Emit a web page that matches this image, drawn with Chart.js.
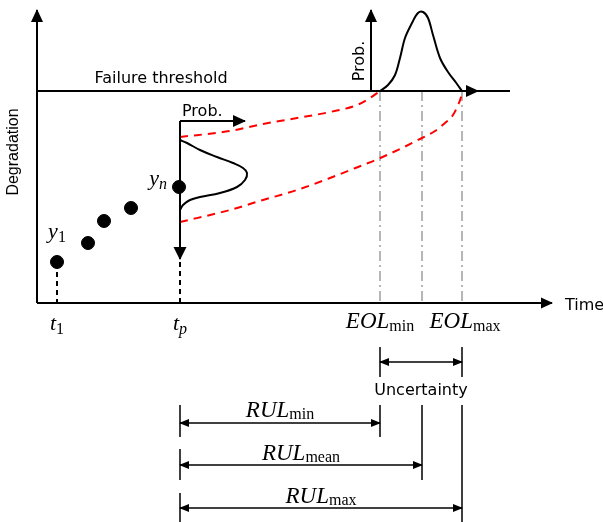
<!DOCTYPE html>
<html>
<head>
<meta charset="utf-8">
<script src="https://cdn.jsdelivr.net/npm/chart.js@4.4.0/dist/chart.umd.min.js"></script>
<style>
  html, body { margin: 0; padding: 0; background: #fff; }
  canvas { display: block; }
</style>
</head>
<body>
<canvas id="rulChart" width="603" height="522"></canvas>
<script>
// ---- data (time / degradation units) ----
var obsTime = [2.0, 5.1, 6.7, 9.4, 14.2];
var obsValue = [4.1, 6.0, 8.2, 9.5, 11.6];
var threshold = 21.2;
var t1 = 2.0;
var tp = 14.3;
var eolTimes = [34.3, 38.5, 42.5]; // min, mean, max

// predicted degradation bounds (red dashed)
var upperTime = [14.3, 19.3, 22.6, 26.0, 29.3, 32.0, 33.3, 34.3];
var upperValue = [16.6, 17.2, 17.9, 18.5, 19.1, 19.8, 20.5, 21.2];
var lowerTime = [14.3, 19.3, 22.6, 26.0, 29.3, 32.6, 34.1, 36.5, 38.5, 39.8, 40.8, 41.6, 42.1, 42.4, 42.5];
var lowerValue = [8.1, 9.3, 10.3, 11.3, 12.5, 13.8, 14.4, 15.5, 16.5, 17.2, 18.0, 18.8, 19.8, 20.6, 21.2];

// state pdf at tp (drawn sideways)
var statePdfTime = [14.3, 15.0, 16.3, 18.0, 19.6, 20.6, 21.0, 20.8, 20.0, 18.3, 16.3, 15.3, 14.6, 14.3];
var statePdfValue = [16.3, 16.0, 15.3, 14.6, 14.0, 13.5, 13.0, 12.3, 11.6, 11.0, 10.6, 10.3, 9.8, 9.3];

// EOL pdf above the threshold
var eolPdfTime = [34.3, 35.1, 35.8, 36.3, 36.8, 37.5, 38.1, 38.6, 39.1, 39.6, 40.3, 41.1, 42.0, 42.5];
var eolPdfValue = [21.2, 21.8, 22.8, 24.5, 26.5, 28.0, 29.0, 29.1, 28.5, 26.8, 24.5, 23.1, 21.9, 21.2];

// ---- helpers ----
function pts(xs, ys) {
    return xs.map(function(x, i) { return {x: x, y: ys[i]}; });
}
function seg(xs, ys, opts) {
    var ds = {
        data: pts(xs, ys),
        showLine: true,
        pointRadius: 0,
        borderColor: '#000',
        backgroundColor: '#000',
        borderWidth: 2,
        tension: 0,
        clip: false
    };
    for (var k in opts) ds[k] = opts[k];
    return ds;
}

var datasets = [];
// main axes
datasets.push(seg([0, 0], [0, 29.3], {arrow: 'end', arrowLen: 12, arrowHalf: 6}));
datasets.push(seg([0, 51.5], [0, 0], {arrow: 'end', arrowLen: 11, arrowHalf: 5.5}));
// failure threshold
datasets.push(seg([0, 47.3], [threshold, threshold], {}));
datasets.push(seg([eolTimes[2], 44.1], [threshold, threshold], {arrow: 'end', arrowLen: 12, arrowHalf: 6}));
// EOL prob axis + pdf
datasets.push(seg([33.4, 33.4], [threshold, 29.3], {arrow: 'end', arrowLen: 12, arrowHalf: 6}));
datasets.push(seg(eolPdfTime, eolPdfValue, {tension: 0.35}));
// prob axis at tp + state pdf
datasets.push(seg([tp, 20.8], [18.2, 18.2], {arrow: 'end', arrowLen: 12, arrowHalf: 6}));
datasets.push(seg([tp, tp], [18.2, 4.4], {arrow: 'end', arrowLen: 12, arrowHalf: 6.5}));
datasets.push(seg(statePdfTime, statePdfValue, {tension: 0.4}));
// drop lines to time axis
datasets.push(seg([t1, t1], [3.1, 0], {borderDash: [5, 4]}));
datasets.push(seg([tp, tp], [4.1, 0], {borderDash: [5, 4]}));
// red prediction bounds
datasets.push(seg(upperTime, upperValue, {borderColor: '#ff0000', borderDash: [8, 6], cubicInterpolationMode: 'monotone'}));
datasets.push(seg(lowerTime, lowerValue, {borderColor: '#ff0000', borderDash: [8, 6], cubicInterpolationMode: 'monotone'}));
// EOL guide lines
eolTimes.forEach(function(t) {
    datasets.push(seg([t, t], [threshold, 0], {borderColor: '#a0a0a0', borderWidth: 1.5, borderDash: [10, 4, 2, 4]}));
});
// bracket lines under the time axis
var brackets = [
    [eolTimes[0], -4.4, -7.4], [eolTimes[0], -10.2, -13.4],
    [eolTimes[2], -4.4, -7.4], [eolTimes[2], -10.2, -21.9],
    [eolTimes[1], -10.2, -17.7],
    [tp, -10.2, -13.4], [tp, -14.6, -17.7], [tp, -19.0, -21.9]
];
brackets.forEach(function(b) {
    datasets.push(seg([b[0], b[0]], [b[1], b[2]], {borderWidth: 1.5}));
});
// dimension arrows
var dims = [
    [eolTimes[0], eolTimes[2], -5.9],
    [tp, eolTimes[0], -12.0],
    [tp, eolTimes[1], -16.2],
    [tp, eolTimes[2], -20.5]
];
dims.forEach(function(d) {
    datasets.push(seg([d[0], d[1]], [d[2], d[2]], {borderWidth: 1.5, arrow: 'both', arrowLen: 9, arrowHalf: 4}));
});
// observations
datasets.push({
    data: pts(obsTime, obsValue),
    showLine: false,
    pointRadius: 6.5,
    pointBackgroundColor: '#000',
    pointBorderColor: '#000',
    clip: false
});

// ---- labels ----
var SANS = '16px "DejaVu Sans"';
var MATH = 'italic 23px "Liberation Serif"';
var MATHS = 'italic 22px "Liberation Serif"';
var SUB = '16px "Liberation Serif"';
var SUBI = 'italic 16px "Liberation Serif"';
var labels = [
    {parts: [{text: 'Failure threshold', font: SANS}], x: 12.4, y: 22.0, align: 'center'},
    {parts: [{text: 'Time', font: SANS}], x: 52.8, y: -0.7, align: 'left'},
    {parts: [{text: 'Degradation', font: '16px "Liberation Sans"'}], x: -1.87, y: 15.1, align: 'center', rot: -90},
    {parts: [{text: 'Prob.', font: SANS}], x: 14.5, y: 18.7, align: 'left'},
    {parts: [{text: 'Prob.', font: SANS}], x: 32.7, y: 24.2, align: 'center', rot: -90},
    {parts: [{text: 'Uncertainty', font: SANS}], x: 38.4, y: -9.2, align: 'center'},
    {parts: [{text: 'y', font: MATHS}, {text: '1', font: SUB, dy: 4}], x: t1, y: 6.5, align: 'center'},
    {parts: [{text: 'y', font: MATHS}, {text: 'n', font: SUBI, dy: 4}], x: 13.0, y: 11.8, align: 'right'},
    {parts: [{text: 't', font: MATHS}, {text: '1', font: SUB, dy: 4}], x: t1, y: -2.7, align: 'center'},
    {parts: [{text: 't', font: MATHS}, {text: 'p', font: SUBI, dy: 4}], x: tp, y: -2.7, align: 'center'},
    {parts: [{text: 'EOL', font: MATH}, {text: 'min', font: SUB, dy: 3}], x: eolTimes[0], y: -2.5, align: 'center'},
    {parts: [{text: 'EOL', font: MATH}, {text: 'max', font: SUB, dy: 3}], x: 42.8, y: -2.5, align: 'center'},
    {parts: [{text: 'RUL', font: MATH}, {text: 'min', font: SUB, dy: 2}], x: 24.3, y: -11.4, align: 'center'},
    {parts: [{text: 'RUL', font: MATH}, {text: 'mean', font: SUB, dy: 2}], x: 26.4, y: -15.7, align: 'center'},
    {parts: [{text: 'RUL', font: MATH}, {text: 'max', font: SUB, dy: 2}], x: 28.4, y: -20.0, align: 'center'}
];

var arrowHeads = {
    id: 'arrowHeads',
    afterDatasetsDraw: function(chart) {
        var ctx = chart.ctx;
        chart.data.datasets.forEach(function(ds, i) {
            if (!ds.arrow) return;
            var p = chart.getDatasetMeta(i).data;
            var len = ds.arrowLen || 10, half = ds.arrowHalf || 5;
            function head(tip, from) {
                var ang = Math.atan2(tip.y - from.y, tip.x - from.x);
                ctx.save();
                ctx.translate(tip.x, tip.y);
                ctx.rotate(ang);
                ctx.beginPath();
                ctx.moveTo(1, 0);
                ctx.lineTo(-len, -half);
                ctx.lineTo(-len, half);
                ctx.closePath();
                ctx.fillStyle = ds.borderColor;
                ctx.fill();
                ctx.restore();
            }
            if (ds.arrow === 'end' || ds.arrow === 'both') head(p[p.length - 1], p[p.length - 2]);
            if (ds.arrow === 'both') head(p[0], p[1]);
        });
    }
};

var textLabels = {
    id: 'textLabels',
    afterDraw: function(chart) {
        var ctx = chart.ctx;
        var sx = chart.scales.x, sy = chart.scales.y;
        labels.forEach(function(l) {
            var widths = l.parts.map(function(p) { ctx.font = p.font; return ctx.measureText(p.text).width; });
            var total = widths.reduce(function(a, b) { return a + b; }, 0);
            ctx.save();
            ctx.translate(sx.getPixelForValue(l.x), sy.getPixelForValue(l.y));
            if (l.rot) ctx.rotate(l.rot * Math.PI / 180);
            ctx.fillStyle = '#000';
            ctx.textBaseline = 'alphabetic';
            ctx.textAlign = 'left';
            var cx = l.align === 'center' ? -total / 2 : (l.align === 'right' ? -total : 0);
            l.parts.forEach(function(p, k) {
                ctx.font = p.font;
                ctx.fillText(p.text, cx, p.dy || 0);
                cx += widths[k];
            });
            ctx.restore();
        });
    }
};

document.addEventListener('DOMContentLoaded', function() {
    var ctx = document.getElementById('rulChart').getContext('2d');
    new Chart(ctx, {
        type: 'scatter',
        data: {datasets: datasets},
        options: {
            responsive: false,
            animation: false,
            events: [],
            layout: {padding: 0, autoPadding: false},
            plugins: {legend: {display: false}, tooltip: {enabled: false}},
            scales: {
                x: {type: 'linear', display: false, min: -3.7, max: 56.6},
                y: {type: 'linear', display: false, min: -21.9, max: 30.3}
            }
        },
        plugins: [arrowHeads, textLabels]
    });
});
</script>
</body>
</html>
